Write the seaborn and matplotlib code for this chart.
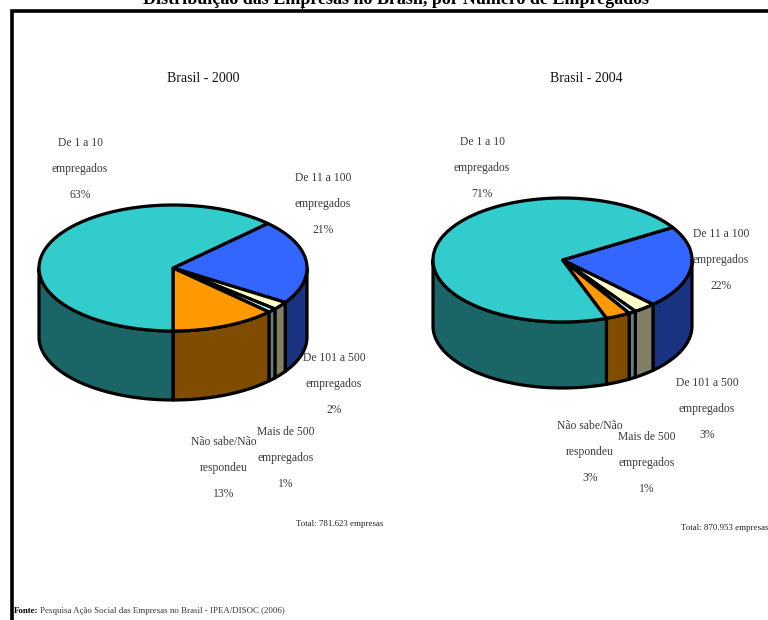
import numpy as np
import matplotlib.pyplot as plt
import seaborn as sns

# Data: slice sizes as drawn, and the percentages as printed
categories = ['De 11 a 100\nempregados', 'De 101 a 500\nempregados', 'Mais de 500\nempregados',
              'Não sabe/Não\nrespondeu', 'De 1 a 10\nempregados']
slices_2000 = [21.7, 2.05, 1.05, 12.7, 62.5]
slices_2004 = [21.5, 2.8, 0.9, 3.1, 71.7]
printed_2000 = [21, 2, 1, 13, 63]
printed_2004 = [22, 3, 1, 3, 71]
colors = sns.color_palette(['#3366FF', '#FFFFCC', '#CCFFFF', '#FF9900', '#33CCCC'])

sns.set_theme(style='white')
plt.rcParams['font.family'] = ['Liberation Serif', 'DejaVu Serif']

fig = plt.figure(figsize=(7.68, 6.2), dpi=100)
ax = fig.add_axes([0, 0, 1, 1])
ax.set_xlim(0, 768)
ax.set_ylim(620, 0)
ax.axis('off')

LW = 2.3


def draw_pie(values, start, cx, cy, rx, ry, depth):
    # angles run clockwise from the top of the ellipse
    edges = start + np.cumsum([0] + list(values)) * 3.6

    def arc(a, b):
        t = np.radians(np.linspace(a, b, 160))
        return cx + rx * np.sin(t), cy - ry * np.cos(t)

    # walls of the front half, hidden parts are cut at 90 and 270 degrees
    for a, b, c in zip(edges[:-1], edges[1:], colors):
        for shift in (0, 360):
            lo, hi = max(a - shift, 90), min(b - shift, 270)
            if lo >= hi:
                continue
            x, y = arc(lo, hi)
            ax.fill(np.r_[x, x[::-1]], np.r_[y, y[::-1] + depth],
                    color=np.array(c) * 0.5, ec='black', lw=LW, joinstyle='round')
    # top face
    for a, b, c in zip(edges[:-1], edges[1:], colors):
        x, y = arc(a, b)
        ax.fill(np.r_[cx, x], np.r_[cy, y], color=c, ec='black', lw=LW, joinstyle='round')


draw_pie(slices_2000, 45, 173, 268, 134, 63, 69)
draw_pie(slices_2004, 58.3, 562.5, 260, 129.5, 62, 66)


def pie_labels(values, positions):
    for name, v, (x, y) in zip(categories, values, positions):
        ax.text(x, y, f'{name}\n{v}%', ha='center', va='center', fontsize=8.4,
                color='#3a3a3a', linespacing=2.6)


pie_labels(printed_2000, [(323, 204), (334, 384), (286, 458), (224, 468), (80, 169)])
pie_labels(printed_2004, [(721, 260), (707, 409), (647, 463), (590, 452), (482, 168)])

ax.text(203, 78, 'Brasil - 2000', ha='center', va='center', fontsize=10, color='#111111')
ax.text(586, 78, 'Brasil - 2004', ha='center', va='center', fontsize=10, color='#111111')
ax.text(340, 524, 'Total: 781.623 empresas', ha='center', va='center', fontsize=6.4, color='#222222')
ax.text(725, 528, 'Total: 870.953 empresas', ha='center', va='center', fontsize=6.4, color='#222222')
ax.text(396, -1, 'Distribuição das Empresas no Brasil, por Número de Empregados', ha='center',
        va='center', fontsize=13, fontweight='bold', color='black', clip_on=True)
ax.text(14, 611, 'Fonte:', ha='left', va='center', fontsize=6.4, fontweight='bold', color='black')
ax.text(40, 611, 'Pesquisa Ação Social das Empresas no Brasil - IPEA/DISOC (2006)', ha='left',
        va='center', fontsize=6.4, color='#333333')

# frame of the pasted table
ax.plot([768, 12, 12], [11, 11, 620], color='black', lw=2.6, solid_joinstyle='miter', clip_on=False)
ax.plot([302, 302], [0, 10], color='black', lw=0.8)

fig.savefig('out.png', dpi=100)
